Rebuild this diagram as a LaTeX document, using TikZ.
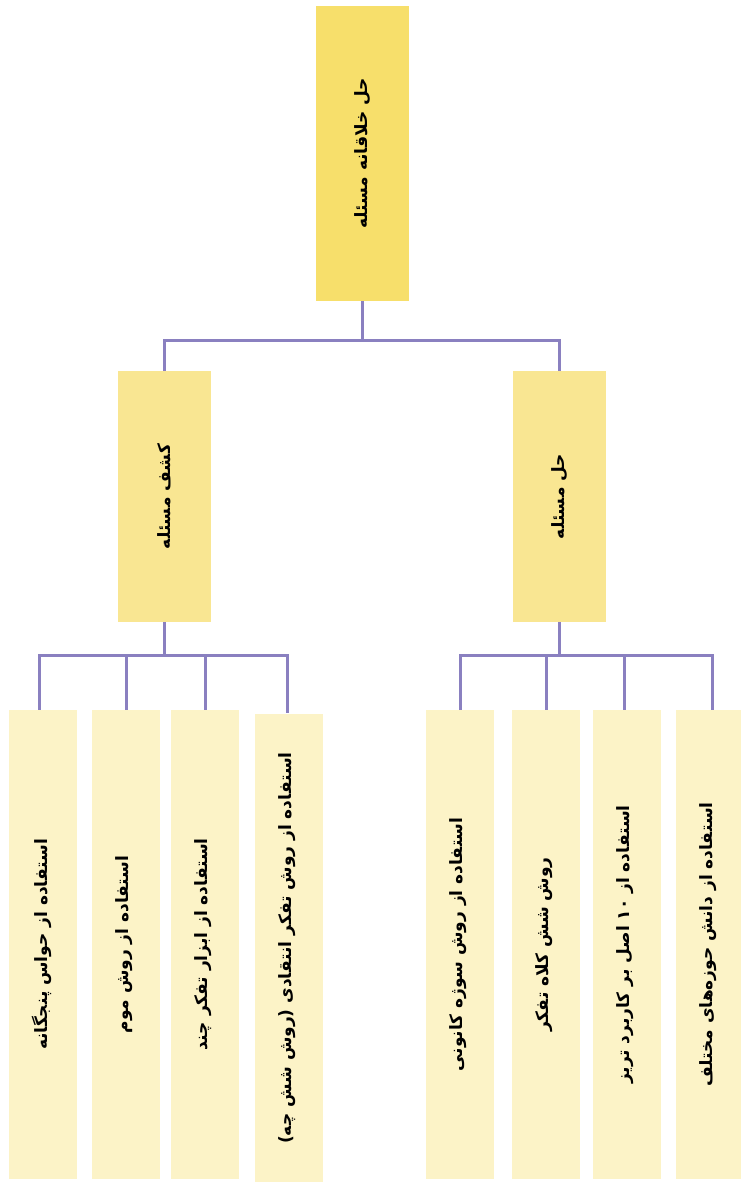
\documentclass[tikz,border=0pt]{standalone}
\usepackage{fontspec}
\usepackage{tikz}
\usetikzlibrary{positioning, calc}
\TeXXeTstate=1
\newfontfamily\fafont[Script=Arabic]{DejaVu Sans}
\definecolor{rootyellow}{RGB}{247, 223, 107}
\definecolor{midyellow}{RGB}{249, 230, 146}
\definecolor{leafyellow}{RGB}{252, 243, 199}
\definecolor{linkpurple}{RGB}{138, 128, 192}
\newcommand{\fa}[1]{\rotatebox{90}{\beginR #1\endR}}
\newcommand{\faleaf}[1]{\rotatebox{90}{\raisebox{7pt}{\beginR #1\endR}}}

\begin{document}
\begin{tikzpicture}[x=1pt, y=-1pt,
  rootbox/.style={fill=rootyellow, inner sep=0pt, minimum width=93pt, minimum height=295pt, font=\fafont\bfseries\fontsize{17}{20}\selectfont},
  midbox/.style={fill=midyellow, inner sep=0pt, minimum width=93pt, minimum height=251pt, font=\fafont\bfseries\fontsize{17}{20}\selectfont},
  leafbox/.style={fill=leafyellow, inner sep=0pt, minimum width=68pt, minimum height=469pt, font=\fafont\bfseries\fontsize{17}{20}\selectfont},
  link/.style={draw=linkpurple, line width=3pt}]
  \useasboundingbox (0,0) rectangle (740,1182);

  % Root
  \node[rootbox] (root) at (362.5, 153.5) {\fa{حل خلاقانه مسئله}};

  % Second level
  \node[midbox] (kashf) at (164.5, 496.5) {\fa{کشف مسئله}};
  \node[midbox] (hal) at (559.5, 496.5) {\fa{حل مسئله}};

  % Leaves of kashf
  \node[leafbox] (k1) at (43, 944.5) {\faleaf{استفاده از حواس پنجگانه}};
  \node[leafbox] (k2) at (126, 944.5) {\faleaf{استفاده از روش موم}};
  \node[leafbox] (k3) at (205, 944.5) {\faleaf{استفاده از ابزار تفکر چند}};
  \node[leafbox] (k4) at (289, 948) {\faleaf{استفاده از روش تفکر انتقادی (روش شش چه)}};

  % Leaves of hal
  \node[leafbox] (h1) at (460, 944.5) {\faleaf{استفاده از روش سوژه کانونی}};
  \node[leafbox] (h2) at (546, 944.5) {\faleaf{روش شش کلاه تفکر}};
  \node[leafbox] (h3) at (627, 944.5) {\faleaf{استفاده از \beginL۱۰\endL{} اصل بر کاربرد تریز}};
  \node[leafbox] (h4) at (710, 944.5) {\faleaf{استفاده از دانش حوزه‌های مختلف}};

  % Connectors
  \coordinate (j0) at (362.5, 340);
  \coordinate (j1) at (164.5, 655);
  \coordinate (j2) at (559.5, 655);
  \draw[link] (root.south) -- (j0);
  \draw[link] (kashf.north) |- (j0) -| (hal.north);
  \draw[link] (kashf.south) -- (j1);
  \draw[link] ([xshift=-4pt]k1.north) |- (j1) -| ([xshift=-2pt]k4.north);
  \draw[link] (k2.north) -- (k2.north |- j1);
  \draw[link] (k3.north) -- (k3.north |- j1);
  \draw[link] (hal.south) -- (j2);
  \draw[link] (h1.north) |- (j2) -| ([xshift=2pt]h4.north);
  \draw[link] (h2.north) -- (h2.north |- j2);
  \draw[link] ([xshift=-3pt]h3.north) -- ([xshift=-3pt]h3.north |- j2);
\end{tikzpicture}
\end{document}
